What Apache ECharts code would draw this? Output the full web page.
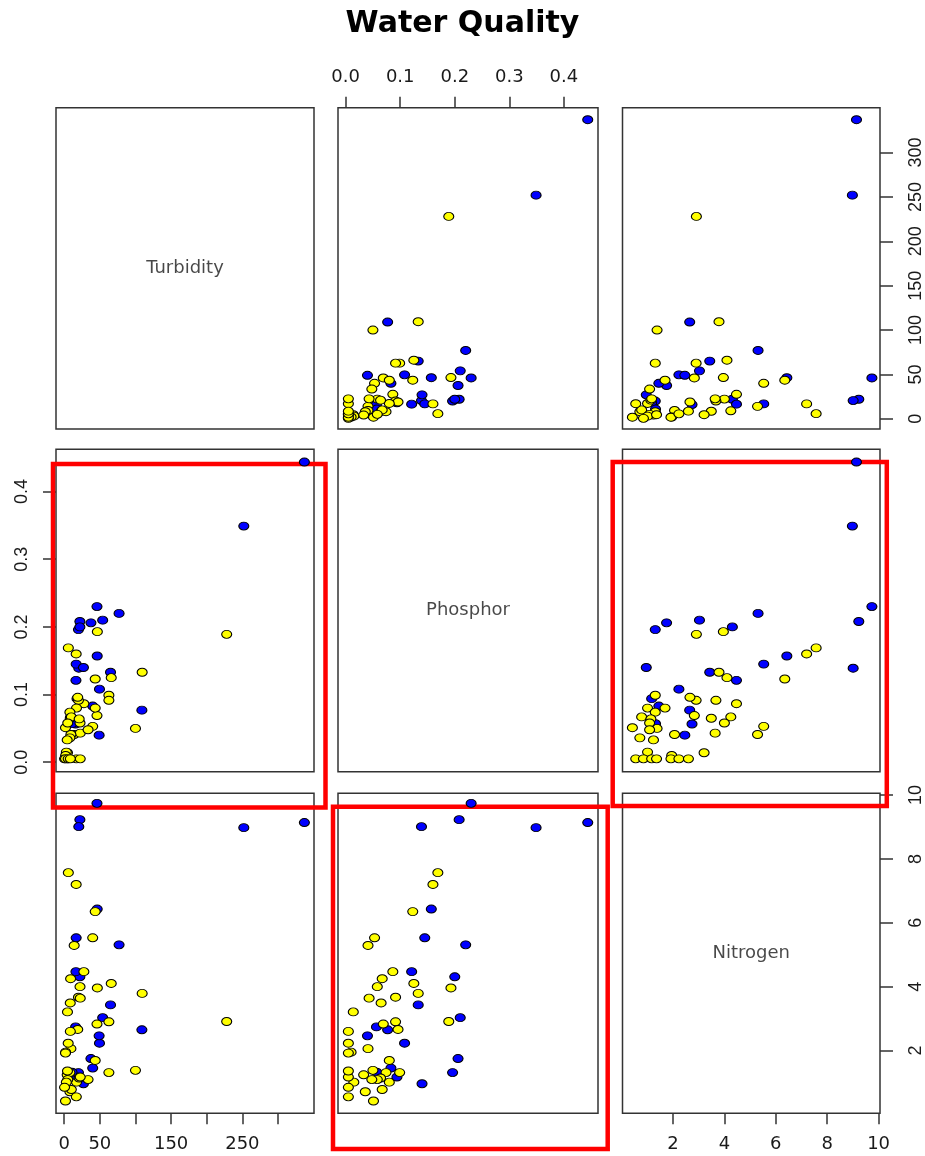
<!DOCTYPE html>
<html><head><meta charset="utf-8">
<script src="https://cdn.jsdelivr.net/npm/echarts@6/dist/echarts.min.js"></script>
<style>html,body{margin:0;padding:0;background:#fff}#c{width:925px;height:1156px}</style>
</head><body><div id="c"></div>
<script>
// ---------------- data ----------------
const chartTitle = 'Water Quality';
const variables = ['Turbidity', 'Phosphor', 'Nitrogen'];
const group = [
  'blue','blue','blue','blue','blue','blue','blue','blue','blue','blue','blue',
  'blue','blue','blue','blue','blue','blue','blue','blue','blue','blue','blue',
  'yellow','yellow','yellow','yellow','yellow','yellow','yellow','yellow','yellow','yellow',
  'yellow','yellow','yellow','yellow','yellow','yellow','yellow','yellow','yellow','yellow',
  'yellow','yellow','yellow','yellow','yellow','yellow','yellow','yellow','yellow','yellow',
  'yellow','yellow','yellow','yellow','yellow','yellow','yellow','yellow','yellow','yellow',
  'yellow'
];
const turbidity = [
  337, 252, 46, 22, 20.5, 77, 54, 37.5, 20, 22, 46.3,
  16.8, 27, 65, 16.5, 49.5, 18, 40, 109, 16, 49, 11,
  228, 46.5, 5.8, 16.8, 43.5, 109.4, 66, 62.7, 62.7, 100,
  40, 14, 27.6, 9, 22.2, 46, 43.5, 8.5, 4.6, 20,
  22.5, 19, 9.4, 1.8, 8, 4.2, 17.3, 8, 10, 21,
  5, 33.5, 3, 2, 17, 0.5, 22.5, 4.6, 1.8, 5.6,
  8.6
];
const phosphor = [
  0.4437, 0.349, 0.230, 0.208, 0.139, 0.220, 0.210, 0.206, 0.196, 0.200, 0.157,
  0.145, 0.140, 0.133, 0.121, 0.108, 0.094, 0.083, 0.077, 0.0565, 0.040, 0.057,
  0.189, 0.193, 0.169, 0.160, 0.123, 0.133, 0.125, 0.099, 0.0915, 0.050,
  0.053, 0.041, 0.0865, 0.067, 0.058, 0.069, 0.080, 0.065, 0.014, 0.0915,
  0.043, 0.096, 0.041, 0.051, 0.036, 0.033, 0.080, 0.074, 0.067, 0.064,
  0.058, 0.048, 0.015, 0.010, 0.005, 0.005, 0.005, 0.005, 0.005, 0.005,
  0.005
];
const nitrogen = [
  9.14, 8.98, 9.74, 9.23, 9.01, 5.31, 3.03, 1.75, 1.31, 4.31, 6.43,
  5.53, 0.96, 3.43, 4.47, 2.23, 1.17, 1.45, 2.65, 2.74, 2.46, 1.32,
  2.91, 3.96, 7.57, 7.20, 6.35, 3.79, 4.10, 1.31, 2.90, 1.38,
  5.53, 5.29, 4.47, 4.25, 4.00, 2.83, 1.69, 3.49, 3.21, 3.67,
  3.64, 2.66, 2.06, 0.42, 0.71, 1.24, 1.01, 1.31, 0.78, 1.14,
  1.09, 1.09, 1.01, 1.95, 0.55, 0.85, 1.17, 1.36, 1.92, 2.23,
  2.60
];
const turbidityTicks = [0, 50, 100, 150, 200, 250, 300];
const turbidityBottomLabels = [0, 50, 150, 250];
const turbidityRightLabels = [0, 50, 100, 150, 200, 250, 300];
const phosphorTicks = [0, 0.1, 0.2, 0.3, 0.4];
const nitrogenTicks = [2, 4, 6, 8, 10];

// ---------------- styling / layout ----------------
const groupColors = { blue: '#0000ff', yellow: '#ffff00' };
const groupOrder = ['blue', 'yellow'];
const values = [turbidity, phosphor, nitrogen];
const limits = [[-11.5, 350.5], [-0.014, 0.4625], [0.035, 10.055]];
const colLeft = [56, 338, 622.5];
const colWidth = [258, 260, 257.5];
const rowTop = [107.7, 449.3, 793.3];
const rowHeight = [321.3, 322.4, 320];
const highlightBoxes = [
  { x: 53, y: 464, w: 272.5, h: 343.5 },
  { x: 612.7, y: 462, w: 274.1, h: 344 },
  { x: 333, y: 806.7, w: 274.7, h: 342.3 }
];
const ellipse = 'path://M0 50A50 50 0 1 1 100 50A50 50 0 1 1 0 50Z';
const hFont = 'DejaVu Sans';
const vFont = 'Liberation Sans';

const tickCfg = [
  { ticks: turbidityTicks, bottom: turbidityBottomLabels, right: turbidityRightLabels, fmt: v => String(v) },
  { ticks: phosphorTicks, bottom: phosphorTicks, right: phosphorTicks, fmt: v => v.toFixed(1) },
  { ticks: nitrogenTicks, bottom: nitrogenTicks, right: nitrogenTicks, fmt: v => String(v) }
];

const grids = [], xAxes = [], yAxes = [], series = [];
for (let i = 0; i < 3; i++) {
  for (let j = 0; j < 3; j++) {
    const k = i * 3 + j;
    grids.push({
      left: colLeft[j], top: rowTop[i], width: colWidth[j], height: rowHeight[i],
      show: true, borderColor: '#333', borderWidth: 1.5, backgroundColor: 'transparent',
      containLabel: false, outerBoundsMode: 'none'
    });
    // x axis
    let xShow = null;
    if (i === 0 && j === 1) xShow = 'top';
    if (i === 2 && (j === 0 || j === 2)) xShow = 'bottom';
    const xc = tickCfg[j];
    xAxes.push({
      type: 'value', gridIndex: k, min: limits[j][0], max: limits[j][1],
      position: xShow || 'bottom',
      axisLine: { show: false, onZero: false }, splitLine: { show: false },
      axisTick: xShow ? { show: true, customValues: xc.ticks, length: 11, lineStyle: { color: '#333', width: 1.5 } } : { show: false },
      axisLabel: xShow ? {
        show: true, customValues: xShow === 'top' ? xc.ticks : xc.bottom,
        formatter: xc.fmt, margin: xShow === 'top' ? 21 : 22,
        fontFamily: hFont, fontSize: 18, color: '#1a1a1a'
      } : { show: false }
    });
    // y axis
    let yShow = null;
    if (j === 0 && i === 1) yShow = 'left';
    if (j === 2 && (i === 0 || i === 2)) yShow = 'right';
    const yc = tickCfg[i];
    yAxes.push({
      type: 'value', gridIndex: k, min: limits[i][0], max: limits[i][1],
      position: yShow || 'left',
      axisLine: { show: false, onZero: false }, splitLine: { show: false },
      axisTick: yShow ? { show: true, customValues: yc.ticks, length: 13, lineStyle: { color: '#333', width: 1.5 } } : { show: false },
      axisLabel: yShow ? {
        show: true, customValues: yShow === 'left' ? yc.ticks : yc.right,
        formatter: yc.fmt, rotate: 90, margin: yShow === 'left' ? 25 : 27,
        fontFamily: vFont, fontSize: 18, color: '#1a1a1a'
      } : { show: false }
    });
    if (i === j) {
      series.push({
        type: 'scatter', xAxisIndex: k, yAxisIndex: k, symbolSize: 0, silent: true,
        data: [[(limits[j][0] + limits[j][1]) / 2, (limits[i][0] + limits[i][1]) / 2]],
        label: { show: true, position: 'inside', formatter: variables[i],
          fontFamily: hFont, fontSize: 18, color: '#1a1a1a' }
      });
    } else {
      groupOrder.forEach(g => {
        const data = [];
        for (let n = 0; n < group.length; n++) {
          if (group[n] === g) data.push([values[j][n], values[i][n]]);
        }
        series.push({
          type: 'scatter', xAxisIndex: k, yAxisIndex: k, name: g,
          symbol: ellipse, symbolSize: [10, 8], data,
          itemStyle: { color: groupColors[g], borderColor: '#000', borderWidth: 1, opacity: 1 },
          emphasis: { disabled: true }
        });
      });
    }
  }
}

const graphics = highlightBoxes.map(b => ({
  type: 'rect', z: 1, silent: true,
  shape: { x: b.x, y: b.y, width: b.w, height: b.h },
  style: { fill: 'none', stroke: '#ff0000', lineWidth: 4.5 }
}));

const chart = echarts.init(document.getElementById('c'), null, { renderer: 'canvas' });
chart.setOption({
  animation: false,
  backgroundColor: '#fff',
  title: { text: chartTitle, left: 'center', top: 4,
    textStyle: { fontFamily: hFont, fontWeight: 'bold', fontSize: 30, color: '#000' } },
  grid: grids, xAxis: xAxes, yAxis: yAxes, series,
  graphic: graphics
});
</script></body></html>
